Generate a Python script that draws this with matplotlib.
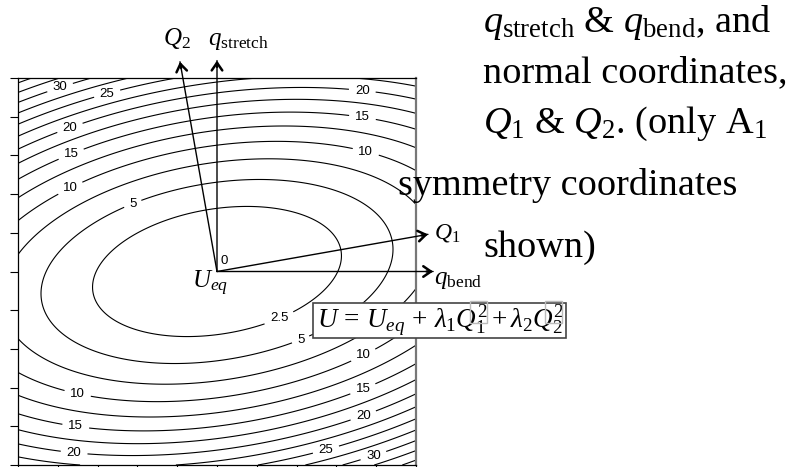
import numpy as np
import matplotlib.pyplot as plt
from matplotlib.patches import Rectangle

plt.rcParams['mathtext.fontset'] = 'custom'
plt.rcParams['mathtext.rm'] = 'Liberation Serif'
plt.rcParams['mathtext.it'] = 'Liberation Serif:italic'
plt.rcParams['mathtext.bf'] = 'Liberation Serif:bold'

# force constants along the normal coordinates and the tilt of Q1 from q_bend
lam1 = 0.25
lam2 = 0.96
theta_deg = 10.0

label_levels = [2.5, 5, 10, 15, 20, 25, 30]
other_levels = [7.5, 12.5, 17.5, 22.5, 27.5, 32.5, 35, 37.5, 40, 42.5]
label_spots = [(-3.92, 4.68), (-2.74, 4.52), (3.64, 4.57), (3.64, 3.88),
               (3.72, 3.02), (-3.67, 3.64), (-3.64, 2.97), (-3.67, 2.12),
               (-2.11, 1.73), (1.56, -1.21), (2.09, -1.73), (3.64, -2.09),
               (3.64, -2.97), (3.64, -3.62), (2.71, -4.50), (3.89, -4.63),
               (-3.49, -3.10), (-3.54, -3.93), (-3.59, -4.68)]

t = np.radians(theta_deg)
x = np.linspace(-5, 5, 401)
y = np.linspace(-5, 5, 401)
X, Y = np.meshgrid(x, y)
Q1 = X*np.cos(t) + Y*np.sin(t)
Q2 = -X*np.sin(t) + Y*np.cos(t)
U = lam1*Q1**2 + lam2*Q2**2

fig = plt.figure(figsize=(7.88, 4.67), dpi=100)
ax = fig.add_axes([18/788, 2/467, 398/788, 387/467])

ax.contour(X, Y, U, levels=other_levels, colors='k', linewidths=0.8)
cs = ax.contour(X, Y, U, levels=label_levels, colors='k', linewidths=0.8)
lbl = ax.clabel(cs, manual=label_spots, inline=True, inline_spacing=5,
                fmt=lambda v: ('%g' % v), fontsize=9.5)
for tx in lbl:
    tx.set_fontfamily('Liberation Sans')
    tx.set_rotation(0)

ax.set_xlim(-5, 5)
ax.set_ylim(-5, 5)
ax.set_xticks(np.arange(-5, 5.1, 1))
ax.set_yticks(np.arange(-5, 5.1, 1))
ax.set_xticklabels([])
ax.set_yticklabels([])
ax.tick_params(direction='out', length=6, width=0.8)
for s in ax.spines.values():
    s.set_linewidth(0.9)
ax.spines['right'].set_color('#777777')
ax.spines['right'].set_linewidth(1.6)

# coordinate axes drawn from the minimum: thin shaft, heavier open head
arrows = {'qs': (0, 5.45), 'Q2': (-0.93, 5.42), 'Q1': (5.3, 0.96), 'qb': (5.43, 0)}
for key, tip in arrows.items():
    tip = np.array(tip)
    ax.annotate('', xy=tip, xytext=(0, 0), annotation_clip=False,
                arrowprops=dict(arrowstyle='-', lw=1.0, color='k',
                                shrinkA=0, shrinkB=0))
    ax.annotate('', xy=tip, xytext=tip*0.97, annotation_clip=False,
                arrowprops=dict(arrowstyle='->,head_length=0.55,head_width=0.38',
                                lw=1.8, color='k', shrinkA=0, shrinkB=0))

ax.text(-1.0, 5.85, r'$Q_2$', fontsize=18, ha='center', va='baseline')
ax.text(-0.23, 5.85, r'$q_{\rm stretch}$', fontsize=18, ha='left', va='baseline')
ax.text(5.45, 0.85, r'$Q_1$', fontsize=17, ha='left', va='baseline')
ax.text(5.45, -0.32, r'$q_{\rm bend}$', fontsize=18, ha='left', va='baseline')
ax.text(-0.18, -0.43, r'$U_{eq}$', fontsize=18, ha='center', va='baseline')
ax.text(0.1, 0.12, '0', fontsize=9.5, family='Liberation Sans', ha='left', va='bottom')

# energy expression in a boxed label
fig.patches.append(Rectangle((313/788, (467-338)/467), 253/788, 35/467,
                             transform=fig.transFigure, facecolor='white',
                             edgecolor='#444444', lw=1.2, zorder=5))
eq = fig.text(441/788, (467-328)/467,
              r'$U\,=\,U_{eq}\,+\,\lambda_1 Q_1^2 + \lambda_2 Q_2^2$',
              fontsize=19.5, ha='center', va='baseline', zorder=6)
for bx in (470, 545):
    fig.patches.append(Rectangle((bx/788, (467-323)/467), 17/788, 22/467,
                                 transform=fig.transFigure, facecolor='none',
                                 edgecolor='#bbbbbb', lw=1.0, zorder=7))

big = 27.5
fig.text(483/788, (467-32)/467, r'$q_{\rm stretch}$ & $q_{\rm bend}$, and',
         fontsize=big, family='Liberation Serif', va='baseline')
fig.text(483/788, (467-82)/467, 'normal coordinates,',
         fontsize=big, family='Liberation Serif', va='baseline')
fig.text(483/788, (467-133)/467, r'$Q_1$ & $Q_2$. (only A$_1$',
         fontsize=big, family='Liberation Serif', va='baseline')
fig.text(398/788, (467-195)/467, 'symmetry coordinates',
         fontsize=big, family='Liberation Serif', va='baseline', zorder=8)
fig.text(483/788, (467-257)/467, 'shown)',
         fontsize=big, family='Liberation Serif', va='baseline')

fig.savefig('out.png', dpi=100)
